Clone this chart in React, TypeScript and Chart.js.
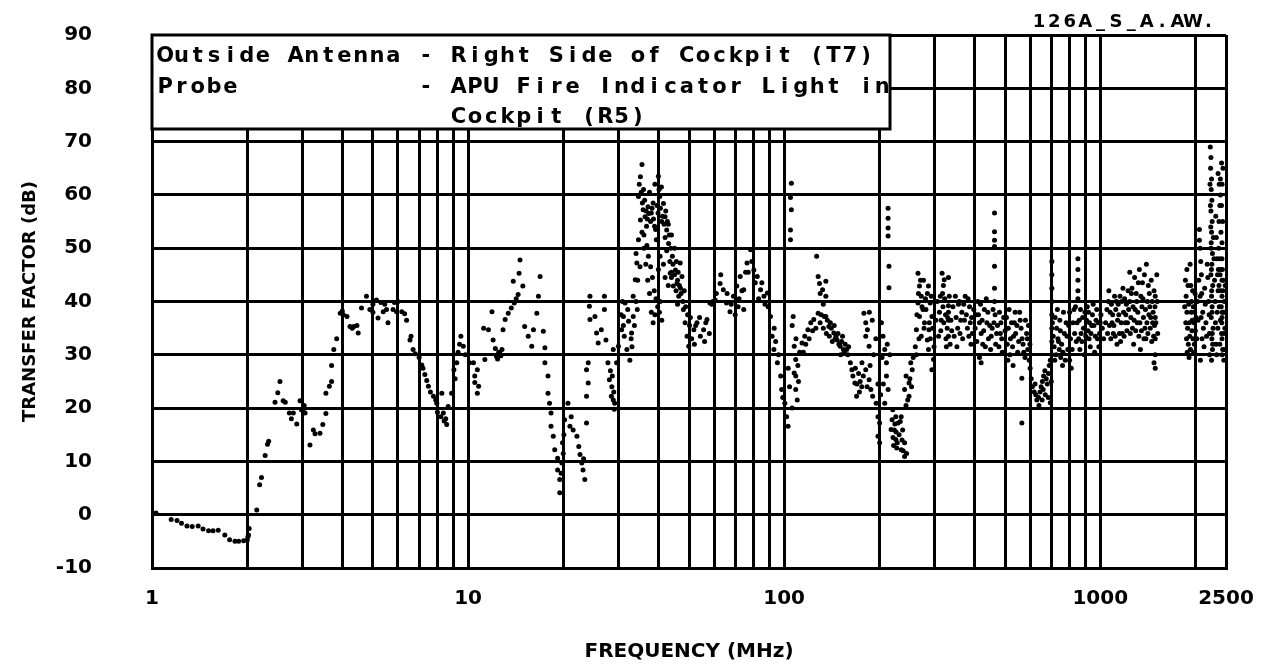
import React, { useEffect, useRef } from "react";
import { Chart, registerables } from "chart.js";

Chart.register(...registerables);

// ---- axis / text content ----
const xTickValues = [1, 2, 3, 4, 5, 6, 7, 8, 9, 10, 20, 30, 40, 50, 60, 70, 80, 90, 100, 200, 300, 400, 500, 600, 700, 800, 900, 1000, 2000, 2500];
const xLabelValues = [1, 10, 100, 1000, 2500];
const yTickValues = [-10, 0, 10, 20, 30, 40, 50, 60, 70, 80, 90];
const xTitle = "FREQUENCY (MHz)";
const yTitle = "TRANSFER FACTOR (dB)";
const plotCode = "126A_S_A.AW.";
const legendLines = [
  "Outside Antenna - Right Side of Cockpit (T7)",
  "Probe           - APU Fire Indicator Light in",
  "                  Cockpit (R5)",
];

// ---- data: [frequency MHz, transfer factor dB] ----
const band1to2: [number, number][] = [
  [1.03, 0.3], [1.15, -0.9], [1.2, -1.1], [1.24, -1.6], [1.29, -2.1], [1.34, -2.2], [1.4, -2.1],
  [1.45, -2.7], [1.51, -3.0], [1.56, -3.0], [1.62, -2.9], [1.7, -3.8], [1.76, -4.7], [1.83, -5.0],
  [1.88, -5.0], [1.95, -4.9], [2.0, -4.8], [2.02, -3.8], [2.03, -2.6], [2.01, -4.2],
];

const band2to10: [number, number][] = [
  [2.145, 0.9], [2.19, 5.6], [2.22, 7.0], [2.28, 11.1], [2.32, 13.2], [2.34, 13.8], [2.45, 21.1],
  [2.5, 22.9], [2.54, 25.0], [2.6, 21.4], [2.64, 21.1], [2.72, 19.1], [2.8, 19.1], [2.76, 18.0],
  [2.87, 17.0], [2.94, 21.4], [2.97, 19.7], [3.0, 19.5], [3.05, 19.1], [3.03, 20.5], [3.16, 13.1],
  [3.24, 15.9], [3.28, 15.2], [3.4, 15.3], [3.47, 16.9], [3.55, 19.0], [3.55, 22.8], [3.64, 24.1],
  [3.7, 25.0], [3.7, 28.0], [3.76, 31.0], [3.84, 33.0], [3.94, 37.8], [4.0, 38.2], [4.03, 37.5],
  [4.14, 37.2], [4.23, 35.3], [4.35, 35.3], [4.3, 35.0], [4.49, 34.1], [4.45, 35.5], [4.6, 38.8],
  [4.77, 41.0], [4.89, 38.5], [5.0, 38.0], [5.0, 39.5], [5.13, 40.3], [5.19, 36.9], [5.39, 38.1],
  [5.52, 38.5], [5.45, 39.5], [5.58, 36.0], [5.79, 38.5], [5.85, 39.8], [5.94, 38.1], [6.0, 40.0],
  [6.17, 38.1], [6.3, 37.7], [6.39, 36.5], [6.55, 32.8], [6.6, 33.5], [6.7, 31.0], [7.0, 29.5],
  [7.14, 28.1], [7.2, 27.5], [7.3, 26.3], [7.49, 24.1], [7.6, 23.0], [7.77, 22.2], [7.96, 20.9],
  [8.0, 19.2], [8.26, 22.8], [8.35, 19.1], [8.5, 18.0], [8.56, 16.9], [8.65, 20.3], [8.87, 22.8],
  [9.02, 27.2], [9.1, 25.5], [9.21, 28.5], [9.3, 30.5], [9.49, 33.5], [9.66, 31.6], [9.8, 30.0],
  [6.8, 30.2], [7.4, 25.2], [7.9, 21.5], [8.2, 18.4], [8.4, 17.6], [9.4, 32.0], [5.3, 39.8],
];

const band10to30: [number, number][] = [
  [10.1, 28.5], [10.5, 26.0], [10.5, 24.8], [10.8, 24.1], [10.4, 28.5], [10.7, 27.2], [10.7, 22.8],
  [11.3, 29.1], [11.2, 35.0], [11.6, 34.7], [11.9, 38.1], [12.0, 32.8], [12.3, 29.7], [12.5, 30.5],
  [12.6, 30.3], [12.8, 31.0], [12.9, 34.7], [13.1, 36.6], [13.4, 37.8], [13.7, 38.8], [14.0, 39.7],
  [14.2, 40.5], [14.4, 41.3], [13.9, 43.8], [14.5, 45.3], [14.6, 47.8], [14.9, 42.9], [15.1, 35.3],
  [15.5, 33.5], [15.9, 31.6], [16.1, 34.7], [16.5, 37.8], [16.7, 41.0], [16.9, 44.7], [17.3, 34.4],
  [17.5, 31.3], [17.5, 28.5], [17.9, 26.0], [17.9, 22.8], [18.1, 20.9], [18.3, 19.1], [18.3, 16.6],
  [18.6, 14.7], [18.8, 12.2], [19.2, 10.6], [19.2, 8.4], [19.5, 6.6], [19.5, 4.1], [19.8, 9.7],
  [20.0, 11.5], [20.2, 17.8], [20.7, 20.9], [21.0, 16.6], [21.2, 18.4], [21.5, 15.9], [22.1, 14.7],
  [22.4, 12.8], [22.6, 11.3], [22.9, 9.7], [23.1, 8.4], [23.4, 6.6], [23.7, 17.2], [23.7, 22.2],
  [24.0, 24.7], [23.7, 27.2], [24.0, 28.5], [24.3, 36.6], [24.2, 39.1], [24.3, 41.0], [25.2, 37.2],
  [25.5, 34.1], [25.8, 32.2], [26.4, 34.7], [27.0, 38.5], [27.0, 41.0], [27.3, 32.8], [27.7, 28.5],
  [28.0, 25.3], [28.4, 22.2], [29.1, 20.9], [28.8, 31.0], [29.5, 28.5], [29.9, 31.6], [28.2, 27.0],
  [28.5, 24.0], [28.8, 21.5], [29.0, 19.8], [28.6, 26.0], [12.2, 31.2], [12.4, 29.2], [12.7, 29.8],
  [19.9, 13.5], [20.1, 15.0], [19.7, 7.8], [23.2, 10.5], [28.9, 23.0],
];

const band30to100: [number, number][] = [
  [30.6, 34.7], [31.0, 37.2], [31.4, 39.7], [32.2, 36.3], [32.9, 34.1], [33.3, 37.2], [33.3, 41.0],
  [33.8, 44.1], [34.2, 47.2], [34.6, 51.6], [35.1, 55.3], [34.6, 59.7], [35.1, 63.4], [35.5, 65.7],
  [35.8, 57.2], [36.3, 55.9], [36.7, 54.1], [37.1, 57.8], [38.0, 56.6], [38.9, 54.1], [39.4, 51.6],
  [39.9, 56.6], [40.4, 59.7], [40.9, 61.5], [41.5, 58.4], [42.0, 55.9], [42.5, 53.4], [43.1, 50.9],
  [44.3, 48.5], [45.3, 45.9], [45.8, 43.4], [46.4, 41.0], [43.6, 45.3], [44.6, 42.9], [46.9, 47.2],
  [47.5, 44.7], [48.0, 38.5], [48.6, 36.0], [49.3, 33.5], [49.9, 31.6], [51.8, 34.7], [53.0, 36.0],
  [54.3, 33.5], [55.6, 34.7], [57.0, 36.6], [58.2, 39.7], [60.5, 40.3], [62.7, 43.4], [64.2, 42.2],
  [65.7, 39.7], [67.4, 38.1], [69.1, 41.0], [70.8, 42.9], [72.6, 44.7], [74.5, 42.2], [74.5, 38.5],
  [76.3, 47.2], [78.3, 49.7], [80.2, 45.9], [82.2, 44.7], [84.2, 42.2], [86.3, 41.0], [88.5, 41.6],
  [90.5, 37.2], [91.6, 33.5], [92.8, 31.0], [95.2, 28.5], [97.5, 26.0], [98.2, 23.5],
  [37.5, 60.5], [38.5, 58.5], [39.0, 62.0], [40.0, 63.5], [41.0, 55.0], [42.0, 52.0], [43.0, 54.5],
  [44.0, 52.5], [45.0, 50.0], [36.0, 50.0], [36.5, 47.0], [37.0, 44.0], [37.5, 41.5], [38.0, 38.0],
  [38.5, 36.0], [39.0, 37.5], [40.5, 40.0], [41.0, 36.5], [35.0, 46.5], [34.0, 40.0], [33.0, 31.5],
  [32.5, 29.0], [31.0, 35.5], [32.0, 38.5], [44.0, 44.5], [46.0, 44.0], [47.0, 42.5], [50.5, 37.0],
  [52.0, 32.0], [56.0, 32.5], [59.0, 39.5], [71.5, 39.0], [77.0, 45.5], [83.0, 40.5], [87.0, 39.5],
];

const cluster35to100: [number, number][] = [
  [34.8, 62.0], [35.3, 60.5], [35.6, 58.5], [35.9, 61.0], [36.2, 59.0], [36.6, 57.0], [36.9, 55.5],
  [37.3, 56.5], [37.8, 55.0], [38.2, 57.5], [38.6, 55.5], [39.2, 53.5], [39.6, 58.0], [40.2, 61.0],
  [40.6, 57.5], [41.2, 56.0], [41.7, 54.5], [42.2, 57.0], [42.7, 55.0], [43.3, 52.5], [43.8, 50.0],
  [44.5, 47.0], [45.0, 45.0], [45.6, 47.5], [46.2, 45.5], [46.6, 43.0], [47.2, 41.5], [47.8, 40.0],
  [48.3, 42.0], [48.8, 39.0], [49.5, 37.5], [50.2, 35.5], [35.5, 53.0], [36.0, 52.5], [36.8, 50.5],
  [37.2, 48.5], [37.8, 46.5], [38.3, 44.5], [38.8, 42.0], [39.3, 40.5], [39.8, 39.0], [40.3, 38.0],
  [34.0, 49.0], [34.4, 44.0], [34.3, 38.5], [33.6, 35.5], [32.8, 33.0], [31.8, 31.0], [31.2, 33.5],
  [30.5, 37.5], [30.8, 40.0], [40.0, 46.0], [40.5, 48.5], [41.5, 47.0], [42.5, 49.5], [43.5, 47.5],
  [44.0, 45.5], [45.5, 42.0], [46.0, 39.5], [43.0, 43.0], [42.0, 44.5], [51.0, 33.0], [52.5, 35.5],
  [54.0, 37.0], [56.5, 36.0], [58.0, 34.0], [59.5, 40.0], [61.0, 41.5], [63.0, 45.0], [66.0, 41.5],
  [68.0, 39.5], [70.0, 37.5], [72.0, 40.5], [73.5, 42.0], [75.5, 45.5], [79.0, 47.5], [81.0, 43.5],
  [85.0, 43.5], [89.0, 39.0], [93.0, 35.0], [94.0, 32.5], [96.0, 30.0], [99.0, 22.0],
];

const band100to300: [number, number][] = [
  [100.5, 20.9], [101.8, 18.4], [102.9, 16.6], [105.4, 62.2], [104.7, 59.5], [105.4, 57.2],
  [104.7, 53.4], [104.7, 51.6], [106.8, 37.2], [106.0, 35.5], [107.6, 31.6], [107.6, 26.6],
  [108.8, 29.1], [108.8, 26.0], [108.8, 23.5], [110.0, 21.5], [110.5, 28.0], [111.0, 25.0],
  [112.0, 30.5], [113.9, 32.2], [116.2, 33.5], [118.9, 34.7], [121.4, 36.0], [124.1, 36.6],
  [126.7, 48.5], [128.1, 44.7], [129.4, 43.4], [135.5, 43.8], [132.3, 42.2], [135.5, 41.0],
  [128.1, 37.8], [131.0, 37.5], [134.0, 37.2], [135.5, 37.2], [138.5, 35.3], [143.6, 34.1],
  [147.0, 32.8], [150.4, 31.6], [154.0, 31.0], [157.7, 31.0], [140.0, 36.0], [145.0, 33.0],
  [152.0, 32.5], [137.0, 36.5], [141.0, 35.0], [146.0, 33.5], [149.0, 32.0], [155.0, 30.5],
  [159.0, 30.0], [160.0, 31.5], [163.8, 27.2], [167.4, 24.7], [169.5, 22.2], [172.0, 26.5],
  [174.0, 25.0], [176.0, 24.0], [178.8, 37.8], [181.2, 36.0], [183.4, 34.7], [181.2, 33.5],
  [185.7, 31.6], [176.3, 28.5], [181.2, 27.2], [185.7, 25.3], [188.1, 23.5], [190.5, 22.2],
  [195.5, 20.9], [198.1, 18.4], [200.5, 17.2], [198.1, 14.7], [200.5, 13.5], [203.1, 36.0],
  [205.5, 33.5], [208.1, 31.0], [210.7, 28.5], [210.7, 26.0], [213.2, 23.5], [208.1, 20.9],
  [213.2, 57.5], [213.2, 55.6], [213.2, 53.8], [213.2, 52.3], [214.6, 46.6], [214.6, 42.6],
  [219.5, 17.8], [223.1, 15.9], [225.5, 14.1], [229.3, 17.2], [234.6, 18.4], [237.0, 15.9],
  [240.5, 13.5], [234.6, 12.2], [240.5, 10.9], [225.5, 18.4], [220.6, 19.7], [222.0, 13.0],
  [227.0, 12.5], [240.5, 23.5], [243.1, 26.0], [248.4, 22.2], [248.4, 24.7], [251.5, 28.5],
  [254.2, 27.2], [265.1, 45.3], [268.0, 42.9], [271.5, 41.0], [265.1, 39.7], [274.9, 38.5],
  [268.0, 37.2], [262.1, 34.7], [271.5, 33.5], [283.7, 32.8], [287.2, 34.7], [293.4, 37.2],
  [289.8, 39.7], [286.2, 42.9], [286.2, 31.0], [296.8, 29.1], [293.4, 27.2], [278.0, 36.0],
  [280.0, 40.5], [276.0, 44.0], [290.0, 33.0],
];

const cluster100to300: [number, number][] = [
  [103, 27.5], [104, 24.0], [106, 20.0], [109, 33.0], [115, 30.5], [117, 32.0], [120, 33.0],
  [123, 34.5], [126, 35.0], [130, 36.0], [133, 35.0], [136, 34.0], [139, 33.5], [142, 32.5],
  [144, 35.5], [148, 34.0], [151, 30.0], [153, 33.5], [156, 32.0], [133, 39.5], [130, 41.5],
  [162, 28.5], [165, 26.0], [168, 27.5], [170, 24.5], [173, 23.0], [178, 26.0], [183, 24.0],
  [187, 28.0], [192, 30.0], [195, 33.0], [190, 36.5], [186, 38.0], [198, 24.5], [202, 22.5],
  [206, 24.5], [204, 29.5], [212, 32.0], [216, 30.0], [218, 16.0], [221, 14.5], [224, 17.0],
  [226, 15.5], [228, 13.5], [231, 15.0], [233, 17.5], [236, 14.0], [238, 12.0], [244, 11.5],
  [243, 20.5], [246, 21.5], [250, 25.5], [253, 24.0], [256, 29.5], [260, 31.5], [263, 37.5],
  [266, 41.5], [270, 44.0], [273, 39.0], [277, 35.0], [281, 38.5], [284, 41.5], [288, 36.0],
  [292, 41.0], [295, 35.0], [298, 31.5], [262, 30.0], [267, 33.0],
];

const band300to1000: [number, number][] = [
  [316, 45.3], [321, 44.1], [319, 43.0], [331, 44.5], [312, 41.0], [318, 39.0], [324, 37.5],
  [320, 36.0], [328, 35.0], [331, 33.5], [335, 32.0], [339, 34.5], [326, 31.5], [314, 36.5],
  [331, 39.2], [331, 38.0], [331, 36.5], [348, 41.0], [356, 39.5], [365, 38.0], [372, 36.5],
  [374, 41.0], [380, 35.0], [384, 33.5], [390, 32.0], [360, 34.0], [352, 31.5], [392, 37.0],
  [386, 39.0], [405, 37.5], [410, 40.0], [415, 36.0], [420, 34.0], [425, 32.0], [430, 38.5],
  [438, 36.0], [443, 33.0], [450, 31.0], [455, 35.0], [463, 56.6], [463, 53.1], [463, 51.5],
  [463, 50.3], [463, 46.6], [463, 42.5], [463, 40.0], [465, 37.5], [470, 34.0], [478, 31.5],
  [485, 36.0], [488, 33.0], [415, 29.5], [420, 28.5], [505, 37.0], [512, 35.0], [520, 33.0],
  [528, 31.5], [535, 36.0], [540, 34.0], [548, 30.5], [556, 38.0], [562, 35.0], [565, 25.6],
  [565, 17.2], [570, 32.0], [578, 29.5], [585, 34.0], [590, 31.0], [596, 29.0], [510, 29.0],
  [530, 28.0], [605, 25.5], [610, 24.0], [618, 23.0], [622, 24.5], [625, 22.5], [630, 21.5],
  [638, 22.0], [640, 20.5], [645, 23.0], [650, 24.0], [655, 21.5], [656, 25.0], [662, 26.0],
  [668, 27.0], [670, 22.5], [675, 25.5], [680, 24.5], [686, 26.5], [690, 28.0], [695, 29.0],
  [660, 23.5], [685, 22.0], [695, 21.0], [700, 25.0], [703, 47.5], [703, 45.0], [703, 42.5],
  [703, 40.0], [703, 37.5], [703, 35.0], [703, 32.5], [703, 30.0], [720, 37.0], [728, 35.0],
  [735, 33.0], [742, 31.0], [750, 29.5], [760, 28.0], [770, 34.0], [780, 36.0], [790, 31.0],
  [800, 29.0], [810, 27.5], [725, 30.0], [745, 36.5], [765, 38.0], [800, 38.0], [835, 39.0],
  [845, 36.0], [855, 33.0], [862, 31.0], [870, 34.0], [880, 37.0], [890, 30.0], [850, 48.0],
  [850, 46.0], [850, 44.0], [850, 42.0], [850, 40.5], [918, 38.0], [925, 36.0], [935, 34.0],
  [945, 37.5], [955, 35.5], [965, 33.5], [975, 38.5], [985, 36.0], [995, 34.0], [930, 31.5],
  [960, 30.5], [990, 31.5],
];

const cluster300to1000: [number, number][] = [
  [302, 36.5], [305, 40.0], [308, 33.5], [310, 38.0], [313, 34.5], [317, 41.5], [322, 40.5],
  [325, 33.0], [329, 37.0], [333, 41.0], [337, 36.5], [342, 39.0], [345, 33.5], [350, 37.0],
  [354, 35.0], [358, 40.0], [362, 36.5], [367, 33.0], [370, 39.5], [377, 37.5], [382, 40.5],
  [388, 36.0], [394, 34.0], [398, 38.5], [402, 35.0], [407, 32.5], [412, 37.5], [418, 39.5],
  [423, 36.5], [428, 34.5], [433, 31.5], [436, 40.5], [441, 38.0], [447, 35.5], [452, 33.5],
  [458, 38.5], [461, 36.0], [467, 32.0], [473, 35.5], [480, 38.0], [483, 34.0], [490, 30.5],
  [495, 37.0], [500, 34.5], [508, 32.0], [515, 38.5], [518, 30.0], [524, 36.0], [532, 33.5],
  [538, 38.0], [545, 35.5], [552, 32.5], [558, 36.5], [566, 33.0], [573, 30.5], [580, 36.5],
  [588, 33.0], [593, 35.5], [599, 32.0], [600, 27.5], [706, 36.0], [710, 33.5], [715, 31.5],
  [718, 29.0], [732, 38.5], [738, 32.5], [748, 34.5], [755, 32.0], [762, 30.5], [775, 29.0],
  [785, 33.5], [795, 35.5], [805, 33.0], [815, 31.0], [820, 36.0], [826, 38.5], [830, 34.0],
  [840, 32.5], [858, 36.5], [866, 38.5], [875, 32.5], [885, 35.0], [895, 38.0], [900, 33.5],
  [905, 36.5], [910, 39.0], [915, 34.5], [922, 33.0], [940, 35.5], [950, 39.5], [970, 36.5],
  [980, 33.0], [1000, 36.0],
];

const band1000to2500: [number, number][] = [
  [1005, 37.5], [1015, 35.0], [1025, 33.0], [1062, 40.0], [1075, 38.0], [1090, 36.0], [1100, 34.0],
  [1110, 41.0], [1120, 38.5], [1135, 36.5], [1150, 34.0], [1160, 32.5], [1170, 40.0], [1185, 38.0],
  [1200, 36.0], [1215, 34.5], [1225, 42.0], [1080, 33.0], [1130, 32.0], [1190, 33.5], [1070, 35.5],
  [1140, 39.5], [1210, 39.5], [1240, 45.5], [1260, 42.5], [1285, 44.5], [1300, 41.5], [1330, 46.0],
  [1360, 43.5], [1380, 45.0], [1400, 47.0], [1420, 43.0], [1450, 44.0], [1480, 42.0], [1240, 40.0],
  [1250, 37.0], [1265, 35.0], [1275, 32.0], [1290, 38.5], [1310, 36.0], [1325, 33.5], [1340, 31.0],
  [1355, 39.0], [1370, 37.0], [1385, 35.0], [1395, 33.0], [1410, 40.0], [1425, 37.5], [1440, 35.0],
  [1455, 32.5], [1470, 38.0], [1485, 35.5], [1493, 30.0], [1493, 27.5], [1493, 33.0], [1493, 37.0],
  [1493, 41.0], [1480, 28.5], [1860, 44.0], [1870, 41.0], [1880, 38.0], [1890, 35.0], [1900, 32.0],
  [1910, 29.5], [1925, 47.0], [1935, 43.0], [1945, 40.0], [1955, 36.5], [1965, 33.0], [1975, 30.5],
  [1990, 38.0], [2000, 34.5], [1880, 46.0], [2060, 53.5], [2060, 51.5], [2070, 50.0], [2080, 47.5],
  [2090, 45.0], [2070, 41.0], [2085, 37.0], [2100, 33.0], [2075, 29.0], [2230, 69.0], [2240, 67.0],
  [2235, 65.0], [2250, 63.0], [2245, 61.0], [2255, 59.0], [2240, 57.0], [2260, 55.0], [2250, 53.0],
  [2245, 51.0], [2265, 49.0], [2255, 47.0], [2240, 45.0], [2270, 43.0], [2250, 41.0], [2260, 39.0],
  [2245, 37.0], [2275, 35.0], [2255, 33.0], [2265, 31.0], [2250, 29.0], [2320, 56.0], [2330, 52.0],
  [2340, 48.0], [2350, 45.0], [2360, 42.0], [2380, 39.0], [2400, 36.5], [2420, 34.0], [2440, 31.0],
  [2460, 29.0], [2480, 35.0], [2470, 40.0], [2450, 44.0], [2430, 38.0], [2390, 32.0], [2410, 46.0],
  [2370, 50.0], [2428, 51.0], [2428, 48.0], [2428, 44.0], [2428, 41.0], [2428, 37.0], [2428, 33.0],
  [2428, 30.0], [2380, 62.0], [2400, 60.0], [2420, 58.0], [2360, 64.0], [2440, 55.0],
];

const cluster1000to2500: [number, number][] = [
  [1040, 36.0], [1050, 38.5], [1055, 34.0], [1065, 42.0], [1085, 39.5], [1095, 37.5], [1105, 35.5],
  [1115, 33.5], [1125, 40.0], [1145, 37.5], [1155, 41.0], [1165, 36.0], [1175, 34.0], [1180, 42.5],
  [1195, 40.5], [1205, 37.5], [1220, 36.0], [1230, 38.5], [1245, 34.0], [1255, 41.5], [1270, 39.0],
  [1280, 36.5], [1295, 34.5], [1305, 40.0], [1315, 38.0], [1320, 43.5], [1335, 36.0], [1345, 41.0],
  [1350, 34.5], [1365, 40.5], [1375, 33.0], [1390, 38.5], [1405, 36.0], [1415, 34.0], [1430, 41.5],
  [1435, 39.0], [1445, 37.0], [1460, 40.0], [1465, 36.0], [1475, 33.5], [1490, 39.0], [1500, 36.0],
  [1510, 45.0], [1515, 40.0], [1520, 34.0], [1850, 39.0], [1865, 36.0], [1875, 33.0], [1885, 30.5],
  [1895, 43.0], [1905, 39.5], [1915, 36.0], [1920, 33.5], [1930, 31.0], [1940, 38.0], [1950, 34.5],
  [1960, 42.0], [1970, 39.0], [1980, 36.0], [1985, 32.0], [1995, 41.5], [2010, 37.0], [2020, 33.0],
  [2030, 40.0], [2040, 36.5], [2050, 44.0], [2095, 41.5], [2110, 38.0], [2120, 35.0], [2130, 31.5],
  [2140, 42.5], [2150, 39.5], [2160, 36.0], [2170, 33.5], [2180, 47.0], [2190, 44.5], [2200, 40.0],
  [2210, 37.5], [2215, 34.0], [2220, 30.0], [2225, 62.0], [2232, 58.0], [2238, 54.0], [2242, 50.0],
  [2248, 46.0], [2252, 42.0], [2258, 38.0], [2262, 34.0], [2268, 32.0], [2280, 52.0], [2290, 48.0],
  [2300, 44.0], [2310, 40.0], [2315, 36.0], [2325, 32.0], [2335, 30.0], [2345, 38.0], [2355, 35.0],
  [2365, 46.0], [2375, 43.0], [2385, 48.0], [2395, 45.0], [2405, 42.0], [2415, 39.0], [2425, 36.0],
  [2435, 46.0], [2445, 42.0], [2455, 38.0], [2465, 34.0], [2475, 31.0], [2485, 43.0], [2490, 38.0],
  [2375, 55.0], [2390, 58.0], [2410, 53.0], [2430, 62.0], [2445, 65.0], [2420, 66.0], [2400, 63.0],
];

const bands = [
  band1to2, band2to10, band10to30, band30to100, cluster35to100, band100to300, cluster100to300,
  band300to1000, cluster300to1000, band1000to2500, cluster1000to2500,
];

const FONT = "DejaVu Sans";

const overlayPlugin = {
  id: "overlayText",
  afterDraw(chart: any) {
    const ctx = chart.ctx as CanvasRenderingContext2D;
    const area = chart.chartArea;
    ctx.save();
    // legend box
    const bx = area.left;
    const by = area.top;
    const bw = 738;
    const bh = 94;
    ctx.fillStyle = "#fff";
    ctx.fillRect(bx, by, bw, bh);
    ctx.strokeStyle = "#000";
    ctx.lineWidth = 3;
    ctx.strokeRect(bx, by, bw, bh);
    ctx.fillStyle = "#000";
    ctx.font = `bold 21px "${FONT}"`;
    ctx.textAlign = "center";
    ctx.textBaseline = "alphabetic";
    const pitch = 16.3;
    legendLines.forEach((line, li) => {
      const baseY = by + 27 + li * 30.5;
      for (let i = 0; i < line.length; i++) {
        const ch = line[i];
        if (ch === " ") continue;
        ctx.fillText(ch, bx + 5 + pitch * i + pitch / 2, baseY);
      }
    });
    // plot code top right
    ctx.font = `bold 18px "${FONT}"`;
    const cp = 15.4;
    const startX = area.right - 10 - cp * plotCode.length;
    for (let i = 0; i < plotCode.length; i++) {
      ctx.fillText(plotCode[i], startX + cp * i + cp / 2, 27);
    }
    ctx.restore();
  },
};

export default function App() {
  const canvasRef = useRef<HTMLCanvasElement | null>(null);

  useEffect(() => {
    if (!canvasRef.current) return;
    const tickFont = { family: FONT, weight: "bold" as const, size: 20 };
    const chart = new Chart(canvasRef.current, {
      type: "scatter",
      data: {
        datasets: bands.map((b, i) => ({
          label: `band${i}`,
          data: b.map(([f, db]) => ({ x: f, y: db })),
          pointRadius: 2.5,
          pointBackgroundColor: "#000",
          pointBorderWidth: 0,
          showLine: false,
        })),
      },
      options: {
        animation: false,
        responsive: false,
        devicePixelRatio: 1,
        events: [],
        layout: { padding: { left: 0, right: 42, top: 35, bottom: 0 } },
        plugins: {
          legend: { display: false },
          tooltip: { enabled: false },
        },
        scales: {
          x: {
            type: "logarithmic",
            min: 1,
            max: 2500,
            afterBuildTicks: (s: any) => {
              s.ticks = xTickValues.map((v) => ({ value: v }));
            },
            afterFit: (s: any) => {
              s.height = 101;
              s.paddingLeft = 0;
              s.paddingRight = 0;
            },
            ticks: {
              autoSkip: false,
              maxRotation: 0,
              minRotation: 0,
              padding: 19,
              color: "#000",
              font: tickFont,
              callback: (v: any) => (xLabelValues.includes(Number(v)) ? String(v) : ""),
            },
            grid: { color: "#000", lineWidth: 3, drawTicks: false },
            border: { color: "#000", width: 3 },
            title: {
              display: true,
              text: xTitle,
              color: "#000",
              font: { family: FONT, weight: "bold", size: 20 },
              padding: { top: 0, bottom: 5 },
            },
          },
          y: {
            min: -10,
            max: 90,
            afterBuildTicks: (s: any) => {
              s.ticks = yTickValues.map((v) => ({ value: v }));
            },
            afterFit: (s: any) => {
              s.width = 152;
              s.paddingTop = 0;
              s.paddingBottom = 0;
            },
            ticks: {
              padding: 60,
              color: "#000",
              font: tickFont,
              callback: (v: any) => String(v),
            },
            grid: { color: "#000", lineWidth: 3, drawTicks: false },
            border: { color: "#000", width: 3 },
            title: {
              display: true,
              text: yTitle,
              color: "#000",
              font: { family: FONT, weight: "bold", size: 18 },
              padding: { top: 20, bottom: 0 },
            },
          },
        },
      },
      plugins: [overlayPlugin],
    } as any);
    return () => chart.destroy();
  }, []);

  return (
    <div style={{ position: "fixed", left: 0, top: 0, width: 1268, height: 669, background: "#fff" }}>
      <canvas ref={canvasRef} width={1268} height={669} style={{ display: "block" }} />
    </div>
  );
}
